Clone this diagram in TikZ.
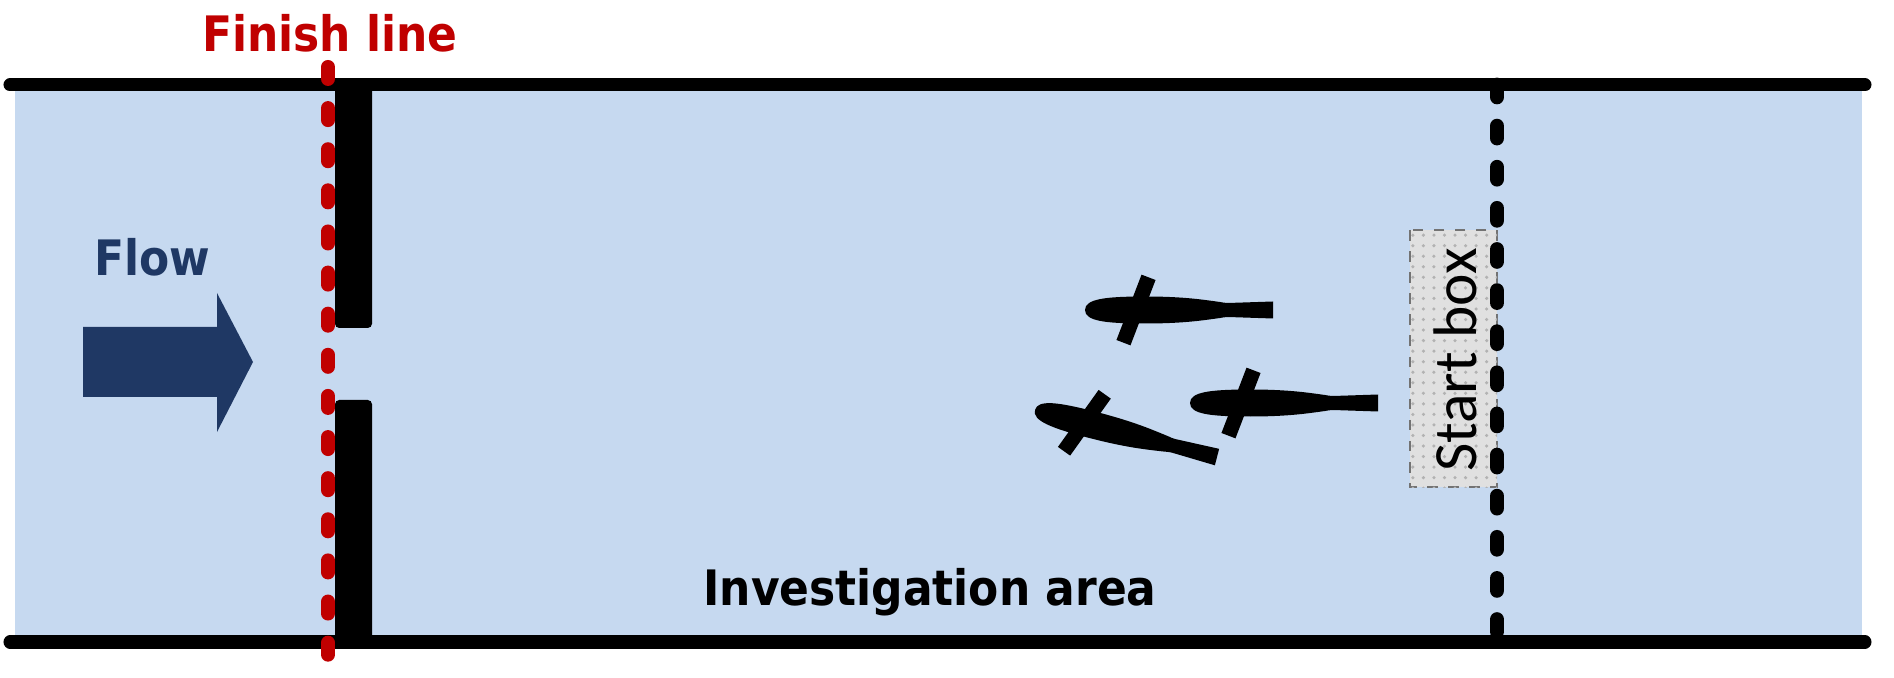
\documentclass[tikz,border=0pt]{standalone}
\usepackage{fontspec}
\newfontfamily\labelfont{DejaVu Sans Condensed Bold}
\newfontfamily\boxfont{Carlito}
\usetikzlibrary{patterns}

\definecolor{water}{HTML}{C6D9F0}
\definecolor{navy}{HTML}{1F3864}
\definecolor{finishred}{HTML}{C00000}

\tikzset{
  fish/.pic={
    \fill (0,0) .. controls (0,-11) and (20,-13.5) .. (60,-13.5)
          .. controls (100,-13.5) and (120,-10) .. (135,-8)
          .. controls (138,-7.5) and (140,-7) .. (143,-7)
          -- (188,-8.5) -- (188,8.5) -- (143,7)
          .. controls (140,7) and (138,7.5) .. (135,8)
          .. controls (120,10) and (100,13.5) .. (60,13.5)
          .. controls (20,13.5) and (0,11) .. (0,0) -- cycle;
    \fill[shift={(51,0)}, rotate=69] (-35,-7.5) rectangle (35,7.5);
  }
}

\begin{document}
\begin{tikzpicture}[x=0.1mm, y=-0.1mm,
    wall/.style={line width=3.7pt, line cap=round},
    gate/.style={fill=black, rounded corners=1.2pt},
    finishdash/.style={finishred, line width=4pt, line cap=round,
                       dash pattern=on 3.4pt off 8.3pt},
    startdash/.style={black, line width=4.2pt, line cap=round,
                      dash pattern=on 3.4pt off 8.3pt},
    boxline/.style={draw=black!55, dashed, line width=0.5pt},
    lbl/.style={font=\labelfont\fontsize{13.9}{16}\selectfont, anchor=base, inner sep=0pt}
]
\useasboundingbox[fill=white] (0,0) rectangle (1894,678);
\fill[water] (15,85) rectangle (1862,642);

\draw[boxline, fill=black!12, postaction={pattern=dots, pattern color=black!30}]
     (1410,230) rectangle (1497,487);
\node[rotate=90, inner sep=0pt, font=\boxfont\fontsize{17.5}{20}\selectfont] (startlbl)
     at (1455,360) {Start box};

\draw[startdash] (1497,85) -- (1497,642);
\draw[wall] (10,85) -- (1865,85);
\draw[wall] (10,642) -- (1865,642);
\fill[gate] (335,80) rectangle (372,328);
\fill[gate] (335,400) rectangle (372,647);
\draw[finishdash] (328,67) -- (328,662);

\fill[navy] (83,327) -- (217,327) -- (217,293) -- (253,362)
     -- (217,432) -- (217,397) -- (83,397) -- cycle;

\node[lbl, text=navy] (flow) at (152,275) {Flow};
\node[lbl, text=finishred] (finish) at (330,52) {Finish line};
\node[lbl] (area) at (930,605) {Investigation area};

\pic at (1085,310) {fish};
\pic at (1190,403) {fish};
\pic[rotate=-14.5] at (1035,410) {fish};
\end{tikzpicture}
\end{document}
